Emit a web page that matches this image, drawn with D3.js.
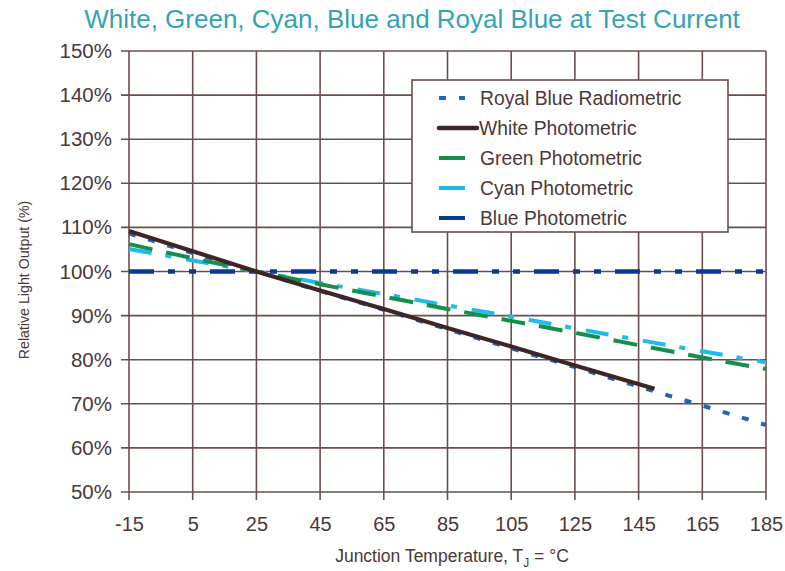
<!DOCTYPE html>
<html>
<head>
<meta charset="utf-8">
<script src="https://cdn.jsdelivr.net/npm/d3@7"></script>
<style>
  html, body { margin: 0; padding: 0; background: #fff; }
  svg { display: block; font-family: 'Liberation Sans', Arial, Helvetica, sans-serif; }
</style>
</head>
<body>
<svg id="chart" width="785" height="571"></svg>
<script>
// Junction temperatures (°C) at which the curves are sampled
const temps = [-15, 5, 25, 45, 65, 85, 105, 125, 145, 165, 185];
const whiteTemps = [-15, 5, 25, 45, 65, 85, 105, 125, 150];

// Relative light output (%) per series
const royalBlueRadiometric = [108.6, 104.2, 100, 95.6, 91.3, 86.9, 82.6, 78.3, 73.9, 69.6, 65.2];
const whitePhotometric = [109.2, 104.6, 100, 95.7, 91.5, 87.2, 83.0, 78.7, 73.4];
const greenPhotometric = [106.2, 103.0, 100, 97.1, 94.3, 91.5, 88.8, 86.1, 83.3, 80.5, 77.9];
const cyanPhotometric = [105.1, 102.5, 100, 97.4, 94.9, 92.3, 89.8, 87.1, 84.5, 81.9, 79.4];
const bluePhotometric = [100, 100, 100, 100, 100, 100, 100, 100, 100, 100, 100];

const xTicks = [-15, 5, 25, 45, 65, 85, 105, 125, 145, 165, 185];
const yTicks = [50, 60, 70, 80, 90, 100, 110, 120, 130, 140, 150];

const series = [
  { name: "Royal Blue Radiometric", xs: temps, ys: royalBlueRadiometric, color: "#2463b3", width: 4, dash: "7,13", legendDash: "7,13" },
  { name: "White Photometric", xs: whiteTemps, ys: whitePhotometric, color: "#3f2626", width: 4.2, dash: null, legendDash: null },
  { name: "Green Photometric", xs: temps, ys: greenPhotometric, color: "#14904a", width: 4, dash: "24,14", legendDash: null },
  { name: "Cyan Photometric", xs: temps, ys: cyanPhotometric, color: "#1ebbec", width: 4, dash: "23,14,6,15", legendDash: null },
  { name: "Blue Photometric", xs: temps, ys: bluePhotometric, color: "#0a3a95", width: 4.5, dash: "25,14,7,14,7,14", legendDash: null }
];

const svg = d3.select("#chart");
const gridColor = "#6a4e4e";
const textColor = "#4a3838";

const margin = { left: 129, right: 19, top: 51, bottom: 79 };
const W = 785, H = 571;

const x = d3.scaleLinear().domain([-15, 185]).range([margin.left, W - margin.right]);
const y = d3.scaleLinear().domain([50, 150]).range([H - margin.bottom, margin.top]);

// Title
svg.append("text")
  .attr("x", 412).attr("y", 28)
  .attr("text-anchor", "middle")
  .attr("fill", "#33a3b6")
  .style("font-size", "26px")
  .text("White, Green, Cyan, Blue and Royal Blue at Test Current");

// Grid
const grid = svg.append("g").attr("stroke", gridColor).attr("stroke-width", 1.6);
grid.selectAll("line.v").data(xTicks).join("line")
  .attr("x1", d => x(d)).attr("x2", d => x(d))
  .attr("y1", y(150)).attr("y2", y(50) + 8);
grid.selectAll("line.h").data(yTicks).join("line")
  .attr("x1", x(-15) - 8).attr("x2", x(185))
  .attr("y1", d => y(d)).attr("y2", d => y(d));

// Axes (labels only; lines drawn as grid)
const xAxis = svg.append("g")
  .attr("transform", `translate(0,${y(50)})`)
  .call(d3.axisBottom(x).tickValues(xTicks).tickSize(0).tickPadding(25).tickFormat(d => String(d)));
xAxis.select(".domain").remove();
xAxis.selectAll("text").attr("fill", textColor).style("font-size", "20px");

const yAxis = svg.append("g")
  .attr("transform", `translate(${x(-15)},0)`)
  .call(d3.axisLeft(y).tickValues(yTicks).tickSize(0).tickPadding(17).tickFormat(d => d + "%"));
yAxis.select(".domain").remove();
yAxis.selectAll("text").attr("fill", textColor).style("font-size", "20.5px");

// Axis titles
svg.append("text")
  .attr("transform", "translate(29,280) rotate(-90)")
  .attr("text-anchor", "middle")
  .attr("fill", textColor)
  .style("font-size", "14.2px")
  .text("Relative Light Output (%)");

const xt = svg.append("text")
  .attr("x", 452).attr("y", 562)
  .attr("text-anchor", "middle")
  .attr("fill", textColor)
  .style("font-size", "17.5px");
xt.append("tspan").text("Junction Temperature, T");
xt.append("tspan").attr("dy", 5).style("font-size", "12px").text("J");
xt.append("tspan").attr("dy", -5).text(" = °C");

// Series lines
const line = d3.line().x(d => x(d[0])).y(d => y(d[1]));
const plotOrder = [3, 2, 4, 0, 1];
plotOrder.forEach(i => {
  const s = series[i];
  const pts = s.xs.map((t, k) => [t, s.ys[k]]);
  svg.append("path")
    .datum(pts)
    .attr("d", line)
    .attr("fill", "none")
    .attr("stroke", s.color)
    .attr("stroke-width", s.width)
    .attr("stroke-dasharray", s.dash)
    .attr("stroke-linecap", "butt");
});

// Legend
const lg = svg.append("g");
lg.append("rect")
  .attr("x", 412).attr("y", 80).attr("width", 316).attr("height", 152)
  .attr("fill", "#fff").attr("stroke", gridColor).attr("stroke-width", 1.6);
series.forEach((s, i) => {
  const cy = 98 + i * 30;
  const isWhite = s.name.startsWith("White");
  lg.append("line")
    .attr("x1", 439).attr("x2", isWhite ? 477 : 465)
    .attr("y1", cy).attr("y2", cy)
    .attr("stroke", s.color)
    .attr("stroke-width", isWhite ? 4.5 : 4)
    .attr("stroke-linecap", isWhite ? "round" : "butt")
    .attr("stroke-dasharray", s.legendDash);
  lg.append("text")
    .attr("x", isWhite ? 479 : 480).attr("y", cy + 7)
    .attr("fill", textColor)
    .style("font-size", "19.3px")
    .text(s.name);
});
</script>
</body>
</html>
